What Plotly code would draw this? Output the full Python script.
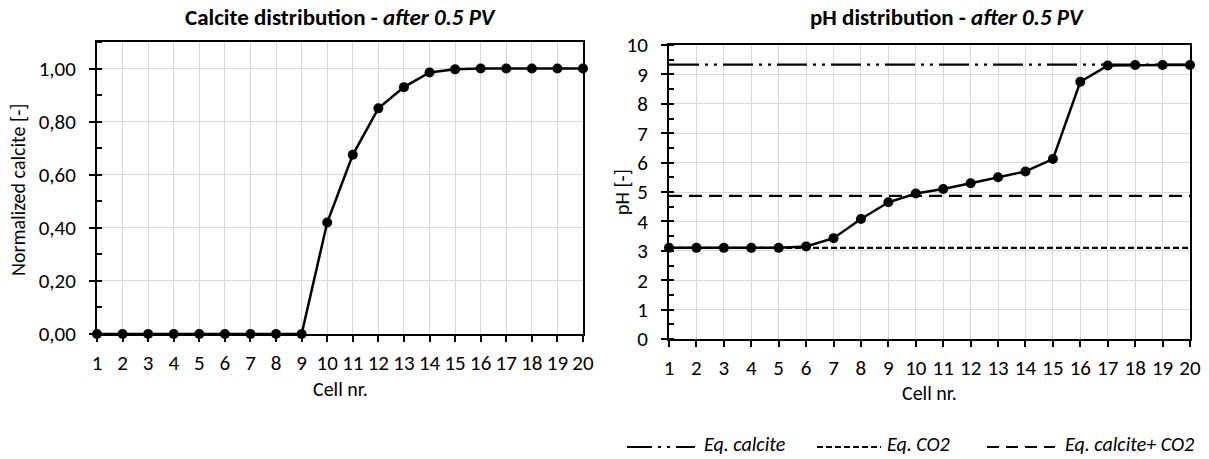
import plotly.graph_objects as go

cells = list(range(1, 21))
calcite_norm = [0, 0, 0, 0, 0, 0, 0, 0, 0, 0.42, 0.675, 0.85, 0.93, 0.985, 0.997, 1.0, 1.0, 1.0, 1.0, 1.0]
ph_values = [3.1, 3.1, 3.1, 3.1, 3.1, 3.15, 3.43, 4.08, 4.65, 4.95, 5.1, 5.3, 5.5, 5.7, 6.12, 8.75, 9.3, 9.32, 9.32, 9.32]
eq_names = ["Eq. calcite", "Eq. CO2", "Eq. calcite+ CO2"]
eq_values = [9.33, 3.1, 4.87]
eq_dashes = ["30px,6px,3px,6px,3px,6px", "6px,3px", "13px,7px"]

FONT = "Calibri, Carlito, Lato, sans-serif"
W, H = 1209, 459

def px(x):
    return x / W

def py(y):
    return 1 - y / H

fig = go.Figure()

fig.add_trace(go.Scatter(x=cells, y=calcite_norm, mode="lines+markers",
                         line=dict(color="black", width=2.5),
                         marker=dict(color="black", size=10),
                         cliponaxis=False, showlegend=False,
                         xaxis="x", yaxis="y"))

for name, val, dash in zip(eq_names, eq_values, eq_dashes):
    fig.add_trace(go.Scatter(x=[cells[0], cells[-1]], y=[val, val], mode="lines",
                             name=name, showlegend=False,
                             line=dict(color="black", width=2.2, dash=dash),
                             xaxis="x2", yaxis="y2"))

fig.add_trace(go.Scatter(x=cells, y=ph_values, mode="lines+markers",
                         line=dict(color="black", width=2.5),
                         marker=dict(color="black", size=10),
                         cliponaxis=False, showlegend=False,
                         xaxis="x2", yaxis="y2"))

TICKSIZE = 21
axis_common = dict(showline=True, linecolor="black", linewidth=2, mirror=True,
                   showgrid=True, gridcolor="#d9d9d9", gridwidth=1.3,
                   ticks="outside", tickcolor="black", ticklen=6, tickwidth=1.8,
                   zeroline=False, tickangle=0, automargin=False,
                   tickfont=dict(family=FONT, size=TICKSIZE, color="black"))

# custom legend (layout decoration, paper coordinates)
legend_samples = [(627, 695), (817, 881), (987, 1055)]
legend_text_x = [702, 885, 1063]
legend_y = 447
shapes = []
annotations = []
for (x0, x1), tx, name, dash in zip(legend_samples, legend_text_x, eq_names,
                                     ["25px,6px,3px,6px,3px,6px", "6px,3px", "12px,7px"]):
    shapes.append(dict(type="line", xref="paper", yref="paper",
                       x0=px(x0), x1=px(x1), y0=py(legend_y), y1=py(legend_y),
                       line=dict(color="black", width=2.2, dash=dash)))
    annotations.append(dict(text="<i>" + name + "</i>", x=px(tx), y=py(444),
                            xref="paper", yref="paper", showarrow=False,
                            xanchor="left", yanchor="middle",
                            font=dict(family=FONT, size=20, color="black")))

annotations += [
    dict(text="<b>Calcite distribution - <i>after 0.5 PV</i></b>", x=px(340), y=py(17),
         xref="paper", yref="paper", showarrow=False, xanchor="center", yanchor="middle",
         font=dict(family=FONT, size=23, color="black")),
    dict(text="<b>pH distribution - <i>after 0.5 PV</i></b>", x=px(947), y=py(17),
         xref="paper", yref="paper", showarrow=False, xanchor="center", yanchor="middle",
         font=dict(family=FONT, size=23, color="black")),
    dict(text="Normalized calcite [-]", x=px(18), y=py(190), textangle=-90,
         xref="paper", yref="paper", showarrow=False, xanchor="center", yanchor="middle",
         font=dict(family=FONT, size=20, color="black")),
    dict(text="pH [-]", x=px(622), y=py(192), textangle=-90,
         xref="paper", yref="paper", showarrow=False, xanchor="center", yanchor="middle",
         font=dict(family=FONT, size=20, color="black")),
    dict(text="Cell nr.", x=px(340), y=py(389),
         xref="paper", yref="paper", showarrow=False, xanchor="center", yanchor="middle",
         font=dict(family=FONT, size=20, color="black")),
    dict(text="Cell nr.", x=px(929), y=py(393),
         xref="paper", yref="paper", showarrow=False, xanchor="center", yanchor="middle",
         font=dict(family=FONT, size=20, color="black")),
]

fig.update_layout(
    template="none",
    width=W, height=H, autosize=False,
    margin=dict(l=0, r=0, t=0, b=0, pad=0, autoexpand=False),
    paper_bgcolor="white", plot_bgcolor="white",
    separators=",.",
    showlegend=False,
    font=dict(family=FONT, color="black"),
    xaxis=dict(domain=[px(97), px(583)], range=[1, 20], dtick=1, tick0=1,
               anchor="y", ticklabelstandoff=3, **axis_common),
    yaxis=dict(domain=[py(334), py(42)], range=[0, 1.1], dtick=0.2, tick0=0,
               tickformat=".2f", anchor="x", ticklabelstandoff=9,
               minor=dict(dtick=0.1, ticks="inside", ticklen=5, tickcolor="black",
                          tickwidth=1.8, showgrid=False),
               **axis_common),
    xaxis2=dict(domain=[px(669), px(1190)], range=[1, 20], dtick=1, tick0=1,
                anchor="y2", ticklabelstandoff=3, **axis_common),
    yaxis2=dict(domain=[py(339), py(45)], range=[0, 10], dtick=1, tick0=0,
                anchor="x2", ticklabelstandoff=9,
                minor=dict(dtick=0.5, ticks="inside", ticklen=5, tickcolor="black",
                           tickwidth=1.8, showgrid=False),
                **axis_common),
    shapes=shapes,
    annotations=annotations,
)

fig.write_html("out.html")
